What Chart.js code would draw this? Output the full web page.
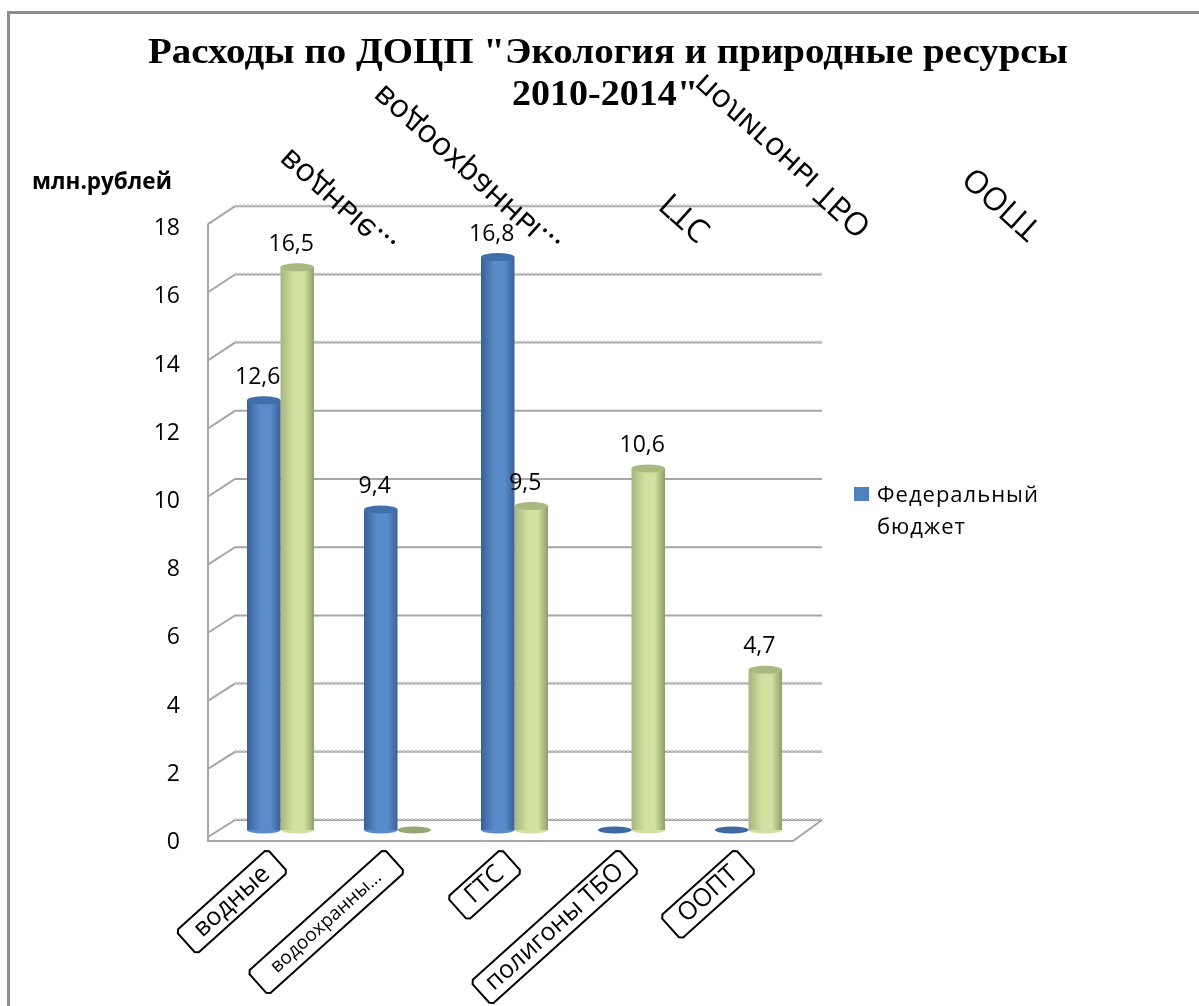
<!DOCTYPE html>
<html>
<head>
<meta charset="utf-8">
<style>
  html, body { margin: 0; padding: 0; background: #fff; }
  #wrap { width: 1199px; height: 1006px; }
</style>
<script src="https://cdn.jsdelivr.net/npm/chart.js@4"></script>
</head>
<body>
<div id="wrap"><canvas id="chart" width="1199" height="1006"></canvas></div>
<script>
// data
const categories = ["водные", "водоохранны...", "ГТС", "полигоны ТБО", "ООПТ"];
const federal = [12.6, 9.4, 16.8, 0, 0];
const other = [16.5, 0, 9.5, 10.6, 4.7];
const titleLines = ['Расходы по ДОЦП "Экология и природные ресурсы', '2010-2014"'];
const unitLabel = "млн.рублей";
const legendLines = ["Федеральный", "бюджет"];

const SANS = '"Open Sans", sans-serif';
const pxPerUnit = 34.1;
const areaUnits = 640 / pxPerUnit;

// ticks whose wall line looks rough in the original
const roughTicks = [18, 16, 14, 4, 2, 0];
const catPct = 0.573;

// where the flipped copies of the labels start
const flippedStarts = [[284, 154], [378, 90], [666, 198], [699, 79], [969, 172]];
const labelFonts = [25, 19, 25, 25, 25];
const labelPads = [30, 42, 30, 22, 30];
// title is stretched in the original: [width, centre x, baseline y]
const titleFit = [[920, 608, 63], [186, 605, 105]];

function cylinderFill(ctx, stops) {
    const chart = ctx.chart;
    const x = chart.scales.x;
    if (!chart.chartArea || !x) return stops[1];
    const w = x.width / categories.length * catPct / 2;
    const left = x.getPixelForValue(ctx.dataIndex) + (ctx.datasetIndex - 1) * w;
    const g = chart.ctx.createLinearGradient(left, 0, left + w, 0);
    g.addColorStop(0, stops[0]);
    g.addColorStop(0.4, stops[1]);
    g.addColorStop(0.7, stops[1]);
    g.addColorStop(1, stops[2]);
    return g;
}
const blueStops = ["#386196", "#5a8ccb", "#3a6296"];
const greenStops = ["#a7b67e", "#d0e1a2", "#8f9e68"];
const capColors = ["#3f70aa", "#a9ba80"];
const flatColors = ["#3f6a9f", "#98a874"];

const wallPlugin = {
    id: "wall",
    beforeDraw(chart) {
        const c = chart.ctx;
        const front = chart.scales.y;
        const back = chart.scales.yBack;
        c.save();
        // outer frame: only top and left edges are visible
        c.strokeStyle = "#8c8c8c";
        c.lineWidth = 3;
        c.beginPath();
        c.moveTo(8.5, 1006);
        c.lineTo(8.5, 12.5);
        c.lineTo(1199, 12.5);
        c.stroke();

        const x0 = 208, x1 = 235, x2 = 822, x3 = 793;
        back.ticks.forEach(t => {
            const yb = back.getPixelForValue(t.value);
            const yf = front.getPixelForValue(t.value);
            c.strokeStyle = "#a6a6a6";
            c.lineWidth = 2;
            c.beginPath();
            c.moveTo(x0, yf - 5.5 + t.value / 18);
            c.lineTo(x1, yb);
            c.lineTo(x2, yb);
            c.stroke();
            if (roughTicks.includes(t.value)) {
                c.strokeStyle = "#d0d0d0";
                c.setLineDash([2, 2]);
                c.beginPath();
                c.moveTo(x1, yb - 1);
                c.lineTo(x2, yb - 1);
                c.stroke();
                c.setLineDash([]);
            }
        });
        // front edges
        const y18 = front.getPixelForValue(18) - 5;
        const y0 = front.getPixelForValue(0) - 1.5;
        const yb0 = back.getPixelForValue(0);
        c.strokeStyle = "#a6a6a6";
        c.lineWidth = 2;
        c.beginPath();
        c.moveTo(x0, y18);
        c.lineTo(x0, y0);
        c.lineTo(x3, y0);
        c.lineTo(x2, yb0);
        c.stroke();
        c.restore();
    },
    beforeDatasetsDraw(chart) {
        // round bottoms of the cylinders
        const c = chart.ctx;
        chart.data.datasets.forEach((ds, di) => {
            chart.getDatasetMeta(di).data.forEach((bar, i) => {
                if (!ds.data[i]) return;
                c.fillStyle = di ? greenStops[1] : blueStops[1];
                c.beginPath();
                c.ellipse(bar.x, bar.base, bar.width / 2, 3.5, 0, 0, Math.PI * 2);
                c.fill();
            });
        });
    },
    afterDatasetsDraw(chart) {
        const c = chart.ctx;
        c.save();
        chart.data.datasets.forEach((ds, di) => {
            chart.getDatasetMeta(di).data.forEach((bar, i) => {
                // top cap, or a flat disc for a zero value
                c.fillStyle = ds.data[i] ? capColors[di] : flatColors[di];
                c.beginPath();
                c.ellipse(bar.x, bar.y, bar.width / 2, ds.data[i] ? 4 : 3.5, 0, 0, Math.PI * 2);
                c.fill();
                // value label
                if (ds.data[i]) {
                    c.fillStyle = "#000";
                    c.font = "23px " + SANS;
                    c.textAlign = "center";
                    c.textBaseline = "middle";
                    c.fillText(String(ds.data[i]).replace(".", ","), bar.x - 6, bar.y - 23);
                }
            });
        });
        c.restore();
    },
    afterDraw(chart) {
        const c = chart.ctx;
        const x = chart.scales.x;
        c.save();
        // title, squeezed to the widths of the original
        c.fillStyle = "#000";
        c.font = 'bold 36px "Liberation Serif", serif';
        c.textAlign = "center";
        c.textBaseline = "alphabetic";
        titleLines.forEach((line, i) => {
            const [w, cx, by] = titleFit[i];
            c.save();
            c.translate(cx, by);
            c.scale(w / c.measureText(line).width, 1);
            c.fillText(line, 0, 0);
            c.restore();
        });

        // unit label
        c.font = "bold 22.5px " + SANS;
        c.textAlign = "left";
        c.textBaseline = "middle";
        c.fillText(unitLabel, 32, 183);

        // legend
        c.fillStyle = "#4f81bd";
        c.fillRect(854, 487, 15, 14);
        c.fillStyle = "#000";
        c.font = "22px " + SANS;
        c.letterSpacing = "1px";
        c.fillText(legendLines[0], 877, 496);
        c.fillText(legendLines[1], 877, 528);
        c.letterSpacing = "0px";

        // boxed category labels under the floor
        const ang = -42 * Math.PI / 180;
        categories.forEach((name, i) => {
            c.save();
            c.translate(x.getPixelForValue(i) - 3, 860.5);
            c.rotate(ang);
            c.font = labelFonts[i] + "px " + SANS;
            const len = c.measureText(name).width + labelPads[i];
            const h = 15.5, cut = 3;
            c.strokeStyle = "#000";
            c.lineWidth = 2;
            c.fillStyle = "#fff";
            c.beginPath();
            c.moveTo(-len + cut, -h);
            c.lineTo(-cut, -h);
            c.lineTo(0, -h + cut);
            c.lineTo(0, h - cut);
            c.lineTo(-cut, h);
            c.lineTo(-len + cut, h);
            c.lineTo(-len, h - cut);
            c.lineTo(-len, -h + cut);
            c.closePath();
            c.fill();
            c.stroke();
            c.fillStyle = "#000";
            c.textAlign = "center";
            c.textBaseline = "middle";
            c.fillText(name, -len / 2, 0);
            c.restore();

            // the same label flipped, up above the plot
            c.save();
            c.translate(flippedStarts[i][0], flippedStarts[i][1]);
            c.rotate(42 * Math.PI / 180);
            c.scale(1, -1);
            c.font = "32px " + SANS;
            c.fillStyle = "#000";
            c.textAlign = "left";
            c.textBaseline = "middle";
            c.fillText(i === 0 ? "водные..." : name, 0, 0);
            c.restore();
        });
        c.restore();
    }
};

new Chart(document.getElementById("chart"), {
    type: "bar",
    data: {
        labels: categories,
        datasets: [
            { label: legendLines.join(" "), data: federal, yAxisID: "yBars",
              backgroundColor: ctx => cylinderFill(ctx, blueStops) },
            { label: "", data: other, yAxisID: "yBars",
              backgroundColor: ctx => cylinderFill(ctx, greenStops) }
        ]
    },
    options: {
        responsive: false,
        animation: false,
        layout: { padding: { left: 100, right: 392, top: 206, bottom: 160 } },
        datasets: { bar: { categoryPercentage: catPct, barPercentage: 1 } },
        plugins: {
            legend: { display: false },
            tooltip: { enabled: false },
            title: { display: false }
        },
        scales: {
            x: { display: false },
            y: {
                min: -3.5 / pxPerUnit,
                max: areaUnits - 3.5 / pxPerUnit,
                afterFit: s => { s.width = 122; },
                border: { display: false },
                grid: { display: false, drawTicks: false },
                ticks: {
                    stepSize: 2,
                    includeBounds: false,
                    padding: 42,
                    color: "#000",
                    font: { family: SANS, size: 23 }
                }
            },
            yBars: {
                display: false,
                min: -16 / pxPerUnit,
                max: areaUnits - 16 / pxPerUnit
            },
            yBack: {
                display: false,
                min: -26 / pxPerUnit,
                max: areaUnits - 26 / pxPerUnit,
                ticks: { stepSize: 2, includeBounds: false }
            }
        }
    },
    plugins: [wallPlugin]
});
</script>
</body>
</html>
